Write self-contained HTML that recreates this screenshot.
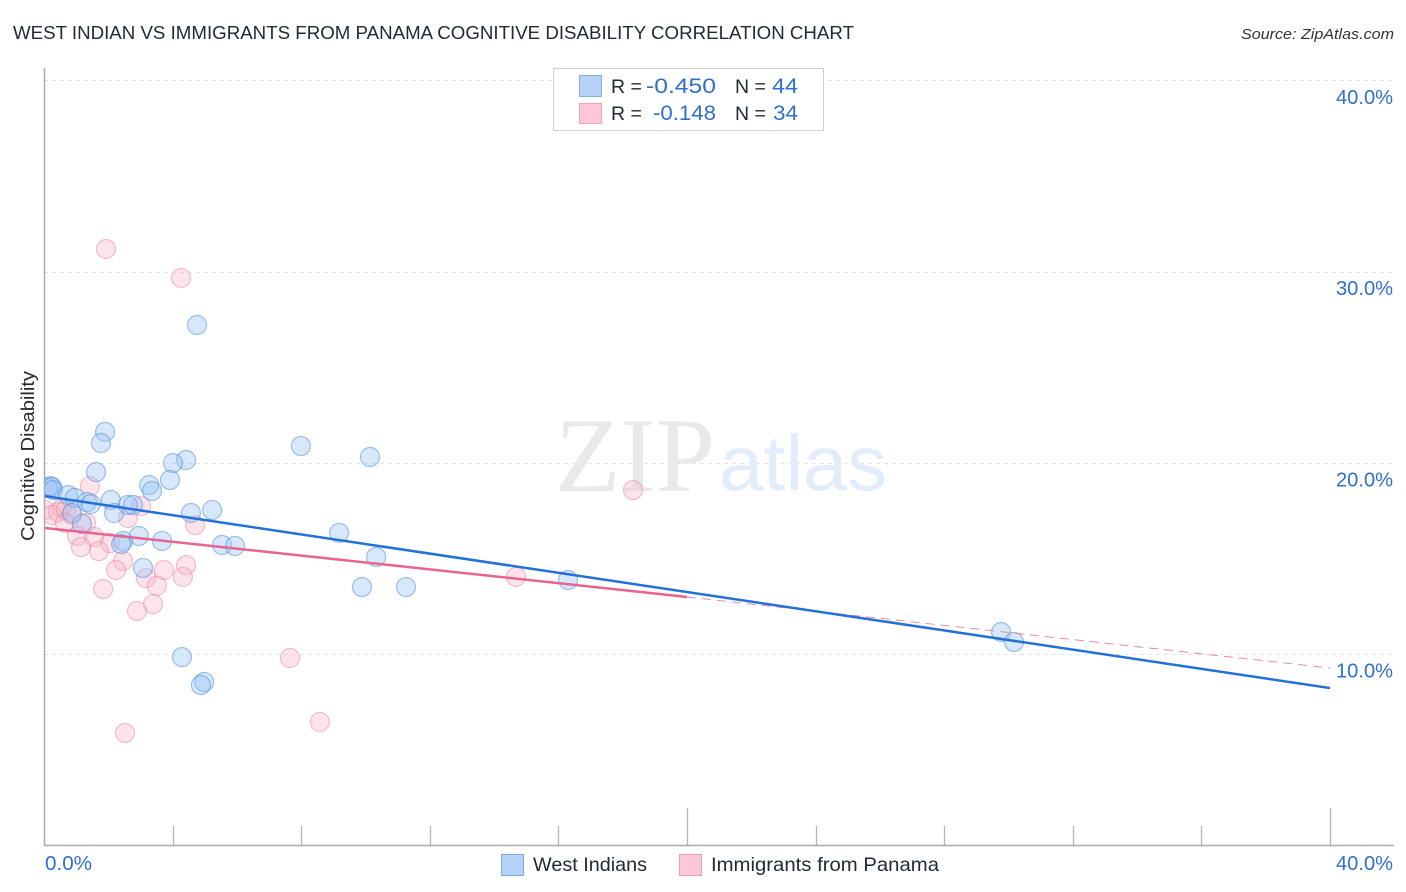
<!DOCTYPE html>
<html lang="en">
<head>
<meta charset="utf-8">
<title>West Indian vs Immigrants from Panama Cognitive Disability Correlation Chart</title>
<style>
html,body{margin:0;padding:0;background:#fff;width:1406px;height:892px;overflow:hidden}
svg{display:block}
text{font-family:"Liberation Sans",sans-serif}
</style>
</head>
<body>
<svg id="chart" xmlns="http://www.w3.org/2000/svg" width="1406" height="892" viewBox="0 0 1406 892">
  <defs>
    <clipPath id="plot-clip"><rect x="45" y="60" width="1349" height="785"/></clipPath>
  </defs>
  <rect x="0" y="0" width="1406" height="892" fill="#ffffff"/>
  <text x="13" y="39" font-size="18.5" fill="#222a33" textLength="841" lengthAdjust="spacingAndGlyphs">WEST INDIAN VS IMMIGRANTS FROM PANAMA COGNITIVE DISABILITY CORRELATION CHART</text>
  <text x="1241" y="39" font-size="15" font-style="italic" fill="#333" textLength="153" lengthAdjust="spacingAndGlyphs">Source: ZipAtlas.com</text>

  <g id="grid"></g>

  <g>
    <text x="555" y="491" font-size="106" fill="#e9e9e9" style="font-family:'Liberation Serif',serif" textLength="160" lengthAdjust="spacingAndGlyphs">ZIP</text>
    <text x="719" y="490" font-size="78" fill="#e2ecfa" textLength="168" lengthAdjust="spacingAndGlyphs">atlas</text>
  </g>

  <g id="axes">
    <line x1="44.5" y1="68" x2="44.5" y2="846" stroke="#aaaaaa" stroke-width="1.5"/>
    <line x1="44" y1="845.5" x2="1394" y2="845.5" stroke="#aaaaaa" stroke-width="1.5"/>
  </g>

  <g id="pink-points" clip-path="url(#plot-clip)"></g>
  <g id="blue-points" clip-path="url(#plot-clip)"></g>
  <g id="trends" clip-path="url(#plot-clip)"></g>
  <g id="y-labels"></g>
  <g id="x-labels"></g>

  <text transform="translate(34 456) rotate(-90)" text-anchor="middle" font-size="18" fill="#222a33" textLength="170" lengthAdjust="spacingAndGlyphs">Cognitive Disability</text>

  <g>
    <rect x="553.5" y="68.5" width="270" height="62" fill="#ffffff" stroke="#cfcfcf" stroke-width="1"/>
    <rect x="579.5" y="75.5" width="22" height="21" fill="#b7d2f7" stroke="#7fb0ea" stroke-width="1"/>
    <rect x="579.5" y="103.5" width="22" height="20" fill="#fcc7d8" stroke="#eea3bb" stroke-width="1"/>
    <text x="611" y="93" font-size="19.5" fill="#222a33">R =</text>
    <text x="716" y="93" font-size="21" fill="#2f6fd0" text-anchor="end" textLength="70" lengthAdjust="spacingAndGlyphs">-0.450</text>
    <text x="735" y="93" font-size="19.5" fill="#222a33">N =</text>
    <text x="798" y="93" font-size="21" fill="#2f6fd0" text-anchor="end" textLength="26" lengthAdjust="spacingAndGlyphs">44</text>
    <text x="611" y="120" font-size="19.5" fill="#222a33">R =</text>
    <text x="716" y="120" font-size="21" fill="#2f6fd0" text-anchor="end" textLength="63" lengthAdjust="spacingAndGlyphs">-0.148</text>
    <text x="735" y="120" font-size="19.5" fill="#222a33">N =</text>
    <text x="798" y="120" font-size="21" fill="#2f6fd0" text-anchor="end" textLength="25" lengthAdjust="spacingAndGlyphs">34</text>
  </g>

  <g>
    <rect x="501.5" y="854.5" width="22" height="21" fill="#b7d2f7" stroke="#7fa8dc" stroke-width="1"/>
    <text x="533" y="871" font-size="19.5" fill="#222a33" textLength="114" lengthAdjust="spacingAndGlyphs">West Indians</text>
    <rect x="679.5" y="854.5" width="22" height="21" fill="#fcc7d8" stroke="#e9a0b6" stroke-width="1"/>
    <text x="711" y="871" font-size="19.5" fill="#222a33" textLength="228" lengthAdjust="spacingAndGlyphs">Immigrants from Panama</text>
  </g>
</svg>
<script>
const blueX = [4.76,1.90,1.77,7.99,4.42,4.01,10.14,1.62,3.92,3.27,3.36,0.19,0.12,0.25,0.28,0.75,0.96,2.08,1.34,1.46,5.23,2.61,2.77,2.18,4.57,0.87,1.18,9.18,2.95,3.67,2.46,2.40,5.54,5.94,10.33,3.08,16.30,9.89,11.26,29.77,30.17,4.29,4.98,4.88];
const blueY = [27.21,21.62,21.04,20.88,20.15,19.99,20.31,19.52,19.11,18.84,18.53,18.79,18.69,18.74,18.58,18.32,18.17,18.06,17.96,17.85,17.54,17.80,17.80,17.38,17.38,17.38,16.81,16.34,16.18,15.92,15.92,15.76,15.71,15.66,15.08,14.51,13.88,13.51,13.51,11.16,10.64,9.85,8.55,8.39];
const pinkX = [1.93,4.26,1.43,18.32,0.56,0.03,0.25,0.44,0.68,0.87,0.65,1.31,3.02,2.61,4.70,1.03,1.56,2.05,1.15,1.71,2.46,2.24,4.42,3.73,3.17,4.32,3.51,1.84,14.68,3.39,2.89,7.65,8.58,2.52];
const pinkY = [31.18,29.67,18.79,18.58,17.64,17.54,17.28,17.43,17.54,17.28,16.86,16.86,17.75,17.12,16.75,16.18,16.13,15.81,15.60,15.39,14.87,14.40,14.66,14.40,13.98,14.04,13.57,13.41,14.04,12.62,12.26,9.80,6.46,5.88];
const blueTrendX = [0,40];
const blueTrendY = [18.27,8.23];
const pinkTrendX = [0,20];
const pinkTrendY = [16.6,12.99];
const pinkDashX = [20,40];
const pinkDashY = [12.99,9.28];
const yTicks = [10,20,30,40];
const yTickLabels = ["10.0%","20.0%","30.0%","40.0%"];
const xTicks = [0,4,8,12,16,20,24,28,32,36,40];
const xMajorTicks = [20,40];
const xEndTicks = [0,40];
const xEndLabels = ["0.0%","40.0%"];

const NS = 'http://www.w3.org/2000/svg';
function xScale(v){ return 44 + v * 32.15; }
function yScale(v){ return 845.5 - v * 19.13; }
function make(tag, attrs){
  const el = document.createElementNS(NS, tag);
  for (const k in attrs) el.setAttribute(k, attrs[k]);
  return el;
}

const grid = document.getElementById('grid');
yTicks.forEach(function(t){
  const y = Math.round(yScale(t)) + 0.5;
  const line = make('line', {x1:44, y1:y, x2:1394, y2:y, stroke:'#e4e4e4', 'stroke-width':1, 'stroke-dasharray':'4 4'});
  
  
  grid.appendChild(line);
});

const axes = document.getElementById('axes');
xTicks.forEach(function(t){
  if (t === 0) return;
  const x = Math.round(xScale(t)) + 0.5;
  const top = xMajorTicks.indexOf(t) >= 0 ? 808 : 826;
  const tick = make('line', {x1:x, y1:top, x2:x, y2:845, stroke:'#b4b4b4', 'stroke-width':1.3});
  
  
  axes.appendChild(tick);
});

const yLabels = document.getElementById('y-labels');
yTicks.forEach(function(t, i){
  const label = make('text', {x:1393, y:yScale(t)+23.5, 'text-anchor':'end', 'font-size':20, fill:'#2f6fd0', textLength:57, lengthAdjust:'spacingAndGlyphs'});
  label.textContent = yTickLabels[i];
  
  
  yLabels.appendChild(label);
});

const xLabels = document.getElementById('x-labels');
xEndTicks.forEach(function(t, i){
  const anchorX = t === 0 ? xScale(t) + 1 : xScale(t) + 63;
  const label = make('text', {x:anchorX, y:870, 'text-anchor': t === 0 ? 'start' : 'end', 'font-size':20, fill:'#2f6fd0', textLength: t === 0 ? 47 : 57, lengthAdjust:'spacingAndGlyphs'});
  label.textContent = xEndLabels[i];
  
  
  xLabels.appendChild(label);
});

const bluePoints = document.getElementById('blue-points');
blueX.forEach(function(v, i){
  const c = make('circle', {cx:xScale(v), cy:yScale(blueY[i]), r:9.5, fill:'rgba(150,195,245,0.38)', stroke:'rgba(70,135,220,0.5)', 'stroke-width':1.2});
  
  
  bluePoints.appendChild(c);
});

const pinkPoints = document.getElementById('pink-points');
pinkX.forEach(function(v, i){
  const c = make('circle', {cx:xScale(v), cy:yScale(pinkY[i]), r:9.5, fill:'rgba(250,180,200,0.36)', stroke:'rgba(232,130,165,0.5)', 'stroke-width':1.2});
  
  
  pinkPoints.appendChild(c);
});

const trends = document.getElementById('trends');
const pinkDash = make('line', {x1:xScale(pinkDashX[0]), y1:yScale(pinkDashY[0]), x2:xScale(pinkDashX[1]), y2:yScale(pinkDashY[1]), stroke:'#e88aa8', 'stroke-width':1, 'stroke-dasharray':'9 6'});


trends.appendChild(pinkDash);
const pinkLine = make('line', {x1:xScale(pinkTrendX[0]), y1:yScale(pinkTrendY[0]), x2:xScale(pinkTrendX[1]), y2:yScale(pinkTrendY[1]), stroke:'#e8638f', 'stroke-width':2.5});


trends.appendChild(pinkLine);
const blueLine = make('line', {x1:xScale(blueTrendX[0]), y1:yScale(blueTrendY[0]), x2:xScale(blueTrendX[1]), y2:yScale(blueTrendY[1]), stroke:'#2270d8', 'stroke-width':2.5});


trends.appendChild(blueLine);
</script>
</body>
</html>
